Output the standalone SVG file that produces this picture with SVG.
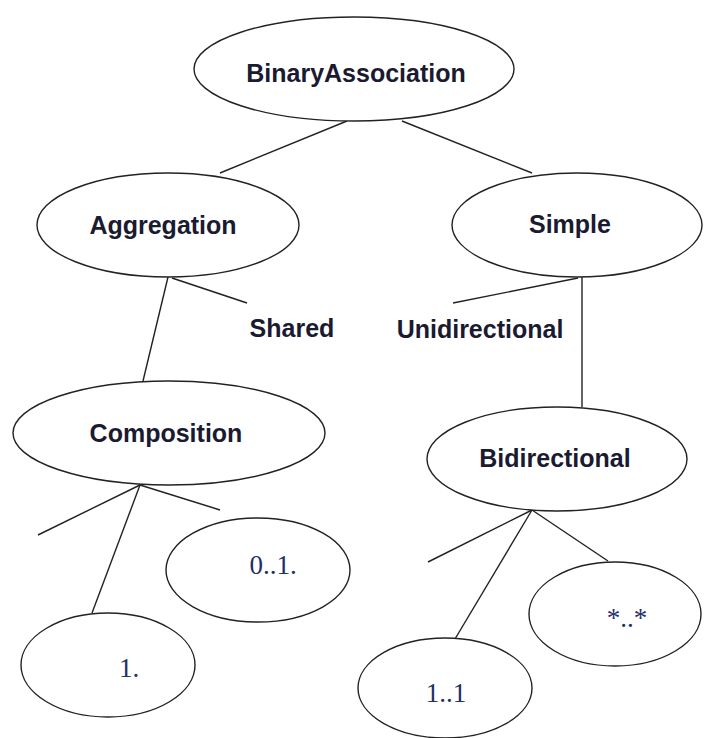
<svg xmlns="http://www.w3.org/2000/svg" width="704" height="738" viewBox="0 0 704 738">
  <style>
    .node { fill: #ffffff; stroke: #222222; stroke-width: 1.4; }
    .edge { fill: none; stroke: #222222; stroke-width: 1.4; }
    .lbl { font-family: "Liberation Sans", Arial, sans-serif; font-weight: bold; font-size: 25px; fill: #1a1a30; text-anchor: middle; }
    .mult { font-family: "Liberation Serif", "Times New Roman", serif; font-size: 27px; fill: #1f2f6a; text-anchor: middle; }
  </style>
  <rect width="704" height="738" fill="#ffffff"/>

  <!-- connectors -->
  <g id="edges">
    <line class="edge" x1="347" y1="121" x2="220" y2="173"/>
    <line class="edge" x1="402" y1="121" x2="532" y2="173"/>
    <line class="edge" x1="168" y1="277" x2="143" y2="381"/>
    <line class="edge" x1="172" y1="278" x2="247" y2="303"/>
    <line class="edge" x1="582" y1="277" x2="582" y2="407"/>
    <line class="edge" x1="578" y1="278" x2="453" y2="303"/>
    <line class="edge" x1="140" y1="485" x2="38" y2="535"/>
    <line class="edge" x1="140" y1="485" x2="92" y2="613"/>
    <line class="edge" x1="140" y1="485" x2="220" y2="510"/>
    <line class="edge" x1="532" y1="510" x2="428" y2="562"/>
    <line class="edge" x1="532" y1="510" x2="455" y2="639"/>
    <line class="edge" x1="532" y1="510" x2="608" y2="561"/>
  </g>

  <g id="binary-association">
    <ellipse class="node" cx="354" cy="69" rx="160" ry="52"/>
    <text class="lbl" x="356" y="82">BinaryAssociation</text>
  </g>
  <g id="aggregation">
    <ellipse class="node" cx="168" cy="225" rx="131" ry="52"/>
    <text class="lbl" x="163" y="234">Aggregation</text>
  </g>
  <g id="simple">
    <ellipse class="node" cx="577" cy="225" rx="125" ry="52"/>
    <text class="lbl" x="570" y="233">Simple</text>
  </g>
  <g id="shared">
    <text class="lbl" x="292" y="337">Shared</text>
  </g>
  <g id="unidirectional">
    <text class="lbl" x="480" y="338">Unidirectional</text>
  </g>
  <g id="composition">
    <ellipse class="node" cx="169" cy="433" rx="156" ry="52"/>
    <text class="lbl" x="166" y="442">Composition</text>
  </g>
  <g id="bidirectional">
    <ellipse class="node" cx="557" cy="459" rx="130" ry="52"/>
    <text class="lbl" x="555" y="467">Bidirectional</text>
  </g>
  <g id="mult-0-1">
    <ellipse class="node" cx="258" cy="570" rx="92" ry="52"/>
    <text class="mult" x="273" y="574">0..1.</text>
  </g>
  <g id="mult-1">
    <ellipse class="node" cx="108" cy="665" rx="87" ry="52"/>
    <text class="mult" x="129" y="677">1.</text>
  </g>
  <g id="mult-many-many">
    <ellipse class="node" cx="615" cy="614" rx="86" ry="52"/>
    <text class="mult" x="627" y="627">*..*</text>
  </g>
  <g id="mult-1-1">
    <ellipse class="node" cx="445" cy="688" rx="87" ry="50"/>
    <text class="mult" x="446" y="702">1..1</text>
  </g>
</svg>
